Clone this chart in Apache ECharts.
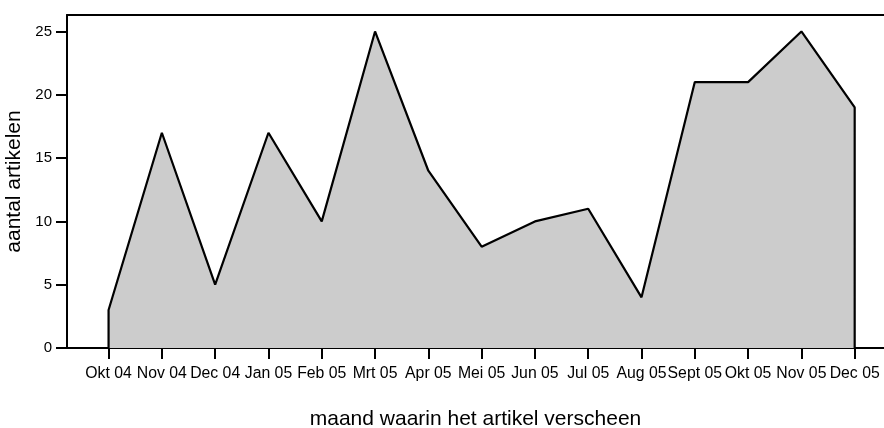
<!DOCTYPE html>
<html>
<head>
<meta charset="utf-8">
<script src="https://cdn.jsdelivr.net/npm/echarts@6/dist/echarts.min.js"></script>
<style>
  html, body { margin: 0; padding: 0; background: #fff; }
  #chart { width: 884px; height: 428px; }
</style>
</head>
<body>
<div id="chart"></div>
<script>
// maanden en aantal artikelen
const months = ['Okt 04', 'Nov 04', 'Dec 04', 'Jan 05', 'Feb 05', 'Mrt 05', 'Apr 05', 'Mei 05',
    'Jun 05', 'Jul 05', 'Aug 05', 'Sept 05', 'Okt 05', 'Nov 05', 'Dec 05'];
const counts = [3, 17, 5, 17, 10, 25, 14, 8, 10, 11, 4, 21, 21, 25, 19];
const yTicks = [0, 5, 10, 15, 20, 25];

const font = "'Liberation Sans', Arial, sans-serif";
const monthIdx = months.map((m, i) => i);

// closed outline: drop to 0 at first and last month
const last = months.length - 1;
const points = [[0, 0]].concat(counts.map((v, i) => [i, v]), [[last, 0]]);

const chart = echarts.init(document.getElementById('chart'));

const option = {
    animation: false,
    backgroundColor: '#fff',
    grid: {
        left: 67,
        right: 0,
        top: 15,
        bottom: 80,
        outerBoundsMode: 'none'
    },
    xAxis: [
        {
            type: 'value',
            min: -0.78,
            max: 14.55,
            name: 'maand waarin het artikel verscheen',
            nameLocation: 'middle',
            nameGap: 61,
            nameTextStyle: { fontFamily: font, fontSize: 21, color: '#000' },
            axisLine: { show: true, onZero: false, lineStyle: { color: '#000', width: 2 } },
            axisTick: { show: true, length: 11, customValues: monthIdx, lineStyle: { color: '#000', width: 2 } },
            axisLabel: {
                customValues: monthIdx,
                formatter: v => months[Math.round(v)],
                margin: 18,
                fontFamily: font,
                fontSize: 15.8,
                color: '#000'
            },
            splitLine: { show: false }
        },
        {
            type: 'value',
            position: 'top',
            min: -0.78,
            max: 14.55,
            axisLine: { show: true, onZero: false, lineStyle: { color: '#000', width: 2 } },
            axisTick: { show: false },
            axisLabel: { show: false },
            splitLine: { show: false }
        }
    ],
    yAxis: {
        type: 'value',
        min: 0,
        max: 26.3,
        name: 'aantal artikelen',
        nameLocation: 'middle',
        nameGap: 34,
        nameTextStyle: { fontFamily: font, fontSize: 21, color: '#000' },
        axisLine: { show: true, onZero: false, lineStyle: { color: '#000', width: 2 } },
        axisTick: { show: true, length: 11, customValues: yTicks, lineStyle: { color: '#000', width: 2 } },
        axisLabel: {
            customValues: yTicks,
            margin: 15,
            fontFamily: font,
            fontSize: 15,
            color: '#000'
        },
        splitLine: { show: false }
    },
    series: [
        {
            type: 'line',
            data: points,
            symbol: 'none',
            lineStyle: { color: '#000', width: 2.2 },
            areaStyle: { color: '#cccccc', opacity: 1 },
            z: 1
        }
    ]
};

chart.setOption(option);
</script>
</body>
</html>
